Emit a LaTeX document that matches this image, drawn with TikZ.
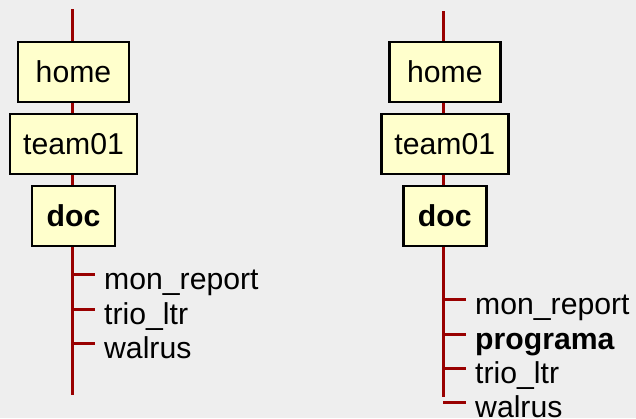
\documentclass[tikz,border=0pt]{standalone}
\usepackage{fontspec}
\setmainfont{Liberation Sans}
\definecolor{bgcol}{HTML}{EEEEEE}
\definecolor{dirfill}{HTML}{FFFFCC}
\definecolor{trunkcol}{HTML}{990000}
\begin{document}
\begin{tikzpicture}[x=1bp,y=-1bp,
  dirbox/.style={draw=black,line width=2.6bp,fill=dirfill,minimum height=60bp,
    inner sep=0pt,font=\fontsize{30.3}{35}\selectfont},
  trunk/.style={draw=trunkcol,line width=3bp},
  filelabel/.style={anchor=west,inner xsep=9bp,inner ysep=0pt,text height=30bp,
    text depth=0pt,font=\fontsize{30.3}{35}\selectfont}]
  % canvas
  \fill[bgcol] (0,0) rectangle (636,418);
  \useasboundingbox (0,0) rectangle (636,418);

  % ---------- left tree ----------
  \coordinate (ltop) at (72,9);
  \coordinate (lbot) at (72,395);
  \node[dirbox,minimum width=111bp] (lhome) at (73.5,72) {home};
  \node[dirbox,minimum width=127bp] (lteam) at (73.5,144) {team01};
  \node[dirbox,minimum width=83bp] (ldoc) at (73.5,216) {\bfseries doc};
  \draw[trunk] (ltop) -- (ltop |- lhome.north);
  \draw[trunk] (ltop |- lhome.south) -- (ltop |- lteam.north);
  \draw[trunk] (ltop |- lteam.south) -- (ltop |- ldoc.north);
  \draw[trunk] (ltop |- ldoc.south) -- (lbot);
  \node[filelabel] (lf1) at (95,274) {mon\_report};
  \node[filelabel] (lf2) at (95,309) {trio\_ltr};
  \node[filelabel] (lf3) at (95,343) {walrus};
  \foreach \f in {lf1,lf2,lf3}
    \draw[trunk] (ltop |- \f.west) -- (\f.west);

  % ---------- right tree ----------
  \coordinate (rtop) at (443.3,11);
  \coordinate (rbot) at (443.3,397);
  \node[dirbox,minimum width=111bp] (rhome) at (444.8,72) {home};
  \node[dirbox,minimum width=127bp] (rteam) at (444.8,144) {team01};
  \node[dirbox,minimum width=83bp] (rdoc) at (444.8,216) {\bfseries doc};
  \draw[trunk] (rtop) -- (rtop |- rhome.north);
  \draw[trunk] (rtop |- rhome.south) -- (rtop |- rteam.north);
  \draw[trunk] (rtop |- rteam.south) -- (rtop |- rdoc.north);
  \draw[trunk] (rtop |- rdoc.south) -- (rbot);
  \node[filelabel] (rf1) at (466,299.3) {mon\_report};
  \node[filelabel] (rf2) at (466,334.3) {\bfseries programa};
  \node[filelabel] (rf3) at (466,368.7) {trio\_ltr};
  \node[filelabel] (rf4) at (466,402.7) {walrus};
  \foreach \f in {rf1,rf2,rf3,rf4}
    \draw[trunk] (rtop |- \f.west) -- (\f.west);
\end{tikzpicture}
\end{document}
